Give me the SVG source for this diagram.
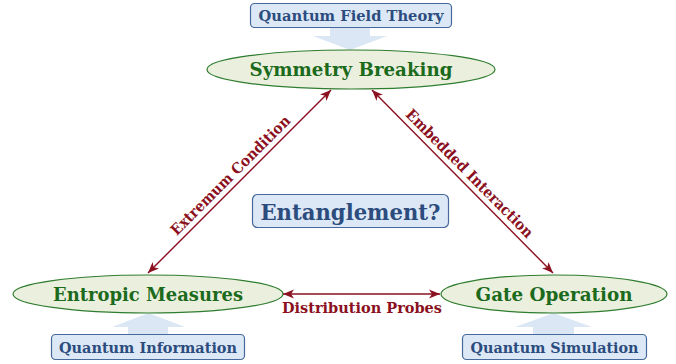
<svg xmlns="http://www.w3.org/2000/svg" width="676" height="364" viewBox="0 0 676 364">
<style>
.box{fill:#dce8f6;stroke:#45699a;stroke-width:1.2}
.btxt{font-family:"DejaVu Serif","Liberation Serif",serif;font-weight:bold;fill:#2c4c7e;text-anchor:middle}
.ell{fill:#ebf0de;stroke:#2f7d2f;stroke-width:1.2}
.etxt{font-family:"DejaVu Serif","Liberation Serif",serif;font-weight:bold;fill:#1c6a1c;text-anchor:middle;font-size:19px}
.fat{fill:#dbe7f5}
.conn{stroke:#8b1020;stroke-width:1.4;fill:none;marker-start:url(#ah);marker-end:url(#ah)}
.ltxt{font-family:"DejaVu Serif","Liberation Serif",serif;font-weight:bold;fill:#8b1020;text-anchor:middle;font-size:15px}
</style>
<defs>
<marker id="ah" markerUnits="userSpaceOnUse" markerWidth="12" markerHeight="10" refX="11" refY="4.5" orient="auto-start-reverse" viewBox="0 0 12 9">
<path d="M0,0 L11,4.5 L0,9 L3,4.5 z" fill="#8b1020"/>
</marker>
</defs>
<g id="fat-arrows">
<path class="fat" d="M330,28 L370,28 L370,36 L387,36 L350,50 L313,36 L330,36 z"/>
<path class="fat" d="M128,334 L168,334 L168,327 L185,327 L148.5,313 L112,327 L128,327 z"/>
<path class="fat" d="M533,334 L574,334 L574,327 L592,327 L553.5,313 L515,327 L533,327 z"/>
</g>
<g id="node-qft">
<rect class="box" x="250.5" y="3.5" width="201" height="24" rx="4"/>
<text class="btxt" x="351" y="20.5" font-size="14.5" textLength="185" lengthAdjust="spacingAndGlyphs">Quantum Field Theory</text>
</g>
<g id="node-symmetry">
<ellipse class="ell" cx="351" cy="69.5" rx="144" ry="19.5"/>
<text class="etxt" x="351" y="76" textLength="203" lengthAdjust="spacingAndGlyphs">Symmetry Breaking</text>
</g>
<g id="node-entropic">
<ellipse class="ell" cx="148" cy="294" rx="135" ry="19"/>
<text class="etxt" x="148" y="300.5" textLength="190" lengthAdjust="spacingAndGlyphs">Entropic Measures</text>
</g>
<g id="node-gate">
<ellipse class="ell" cx="554" cy="294" rx="113" ry="19"/>
<text class="etxt" x="554" y="300.5" textLength="157" lengthAdjust="spacingAndGlyphs">Gate Operation</text>
</g>
<g id="node-qi">
<rect class="box" x="51.5" y="334.5" width="193" height="25" rx="4"/>
<text class="btxt" x="148" y="352.5" font-size="14.5" textLength="178" lengthAdjust="spacingAndGlyphs">Quantum Information</text>
</g>
<g id="node-qs">
<rect class="box" x="462.5" y="334.5" width="184" height="25" rx="4"/>
<text class="btxt" x="554.5" y="352.5" font-size="14.5" textLength="168" lengthAdjust="spacingAndGlyphs">Quantum Simulation</text>
</g>
<g id="node-entanglement">
<rect class="box" x="252.5" y="194.5" width="196" height="33" rx="5"/>
<text class="btxt" x="350.5" y="219.5" font-size="23" textLength="180" lengthAdjust="spacingAndGlyphs">Entanglement?</text>
</g>
<g id="connectors">
<line class="conn" x1="148" y1="273" x2="331" y2="90"/>
<line class="conn" x1="372" y1="90" x2="553" y2="273"/>
<line class="conn" x1="283" y1="294" x2="440" y2="294"/>
<text class="ltxt" transform="translate(234,179) rotate(-45)" textLength="162" lengthAdjust="spacingAndGlyphs">Extremum Condition</text>
<text class="ltxt" transform="translate(466,177) rotate(45.3)" textLength="174" lengthAdjust="spacingAndGlyphs">Embedded Interaction</text>
<text class="ltxt" x="362" y="312.5" textLength="160" lengthAdjust="spacingAndGlyphs">Distribution Probes</text>
</g>
</svg>
